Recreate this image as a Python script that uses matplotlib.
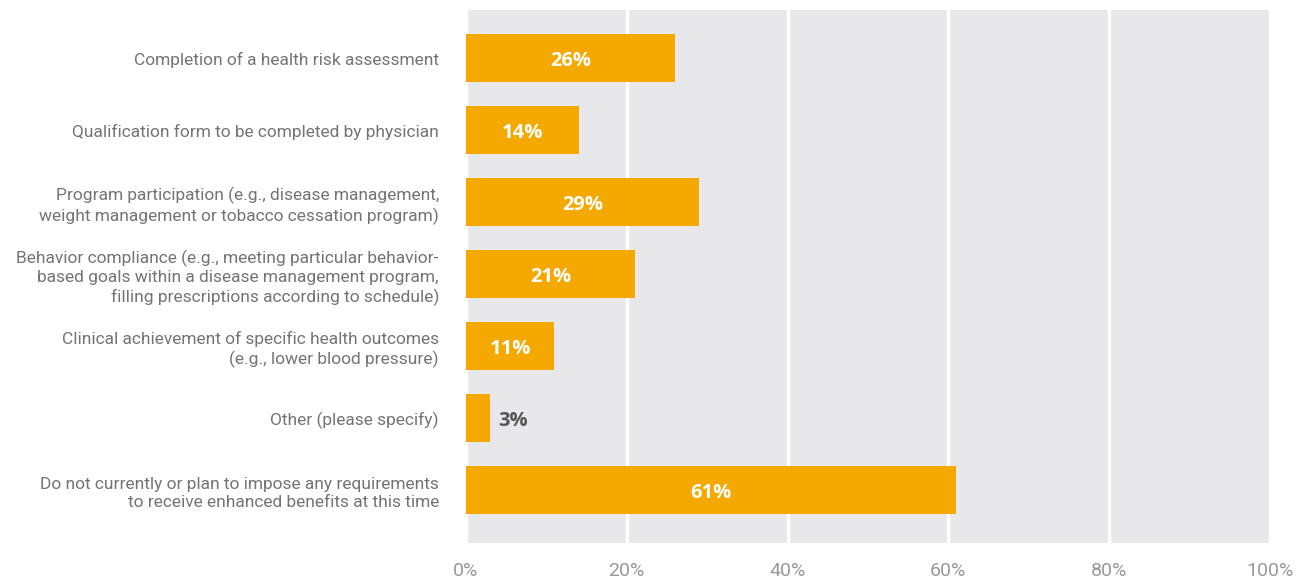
import matplotlib.pyplot as plt
from matplotlib.ticker import FuncFormatter

categories = [
    "Completion of a health risk assessment",
    "Qualification form to be completed by physician",
    "Program participation (e.g., disease management,\nweight management or tobacco cessation program)",
    "Behavior compliance (e.g., meeting particular behavior-\nbased goals within a disease management program,\nfilling prescriptions according to schedule)",
    "Clinical achievement of specific health outcomes\n(e.g., lower blood pressure)",
    "Other (please specify)",
    "Do not currently or plan to impose any requirements\nto receive enhanced benefits at this time",
]
values = [26, 14, 29, 21, 11, 3, 61]
xticks = [0, 20, 40, 60, 80, 100]

plt.rcParams['font.family'] = ['Roboto', 'DejaVu Sans']

fig = plt.figure(figsize=(13.09, 5.8), dpi=100)
ax = fig.add_axes([466 / 1309, 1 - 543 / 580, 804 / 1309, 533 / 580])
ax.set_facecolor('#E8E8EA')

pos = list(range(len(values)))
ax.barh(pos, values, height=0.667, color='#F5A800', zorder=3)

# value labels: inside the bar, or just past it when the bar is too short
for p, v in zip(pos, values):
    if v < 5:
        ax.text(v + 1.0, p + 0.04, f"{v}%", va='center', ha='left', fontsize=14.5,
                fontweight='bold', color='#555555', zorder=4, family='Open Sans')
    else:
        ax.text(v / 2, p + 0.04, f"{v}%", va='center', ha='center', fontsize=14.5,
                fontweight='bold', color='white', zorder=4, family='Open Sans')

ax.set_xlim(0, 100)
ax.set_ylim(6.736, -0.667)
ax.set_xticks(xticks)
ax.xaxis.set_major_formatter(FuncFormatter(lambda x, _: f"{x:.0f}%"))
ax.set_yticks(pos)
ax.set_yticklabels(categories, fontsize=12.5, color='#747474', linespacing=1.25)
ax.tick_params(axis='x', length=0, pad=14, labelsize=14, labelcolor='#999999')
ax.tick_params(axis='y', length=0, pad=19.5)
for lab in ax.get_yticklabels():
    lab.set_horizontalalignment('right')

ax.grid(axis='x', color='white', linewidth=2.5, zorder=1)
ax.set_axisbelow(True)
for s in ax.spines.values():
    s.set_visible(False)

fig.savefig('out.png', dpi=100)
